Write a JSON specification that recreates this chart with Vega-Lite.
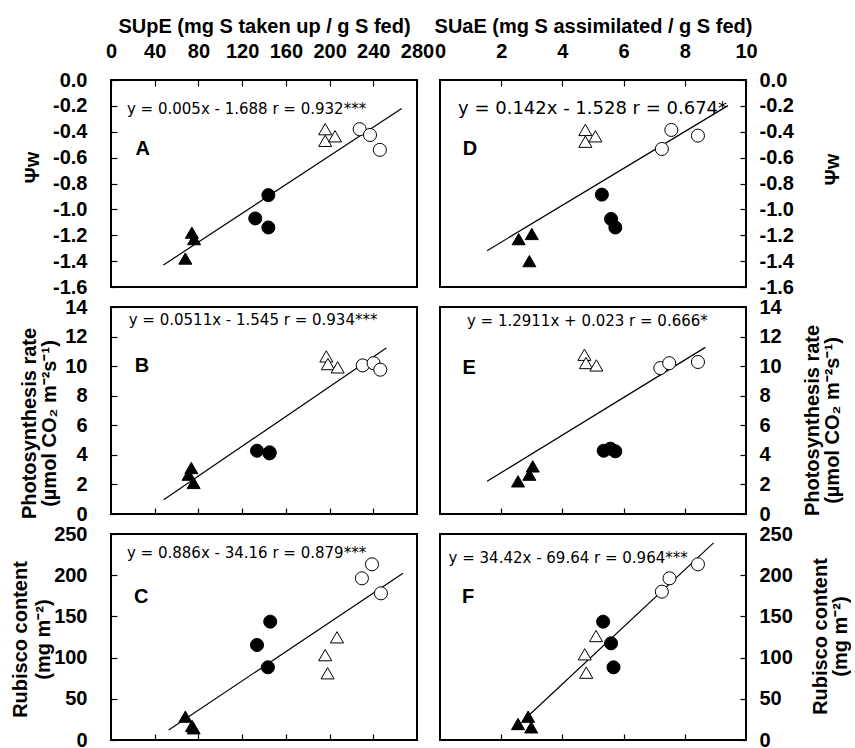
{
  "$schema": "https://vega.github.io/schema/vega-lite/v6.json",
  "padding": {"left": 9, "top": 15, "right": 0, "bottom": 0},
  "config": {
    "view": {"stroke": "black", "strokeWidth": 2},
    "axis": {
      "grid": false, "domain": false, "tickColor": "black", "tickSize": -6, "tickWidth": 1.2,
      "labelFont": "Liberation Sans", "labelFontWeight": "bold", "labelFontSize": 20, "labelColor": "black",
      "titleFont": "Liberation Sans", "titleFontWeight": "bold", "titleFontSize": 20, "titleColor": "black",
      "titleLineHeight": 20, "labelFlush": false, "labelOverlap": false, "labelBound": false
    }
  },
  "datasets": {
    "points": [
      {"panel": "A", "group": "closed_triangle", "x": 68, "y": -1.38},
      {"panel": "A", "group": "closed_triangle", "x": 74, "y": -1.18},
      {"panel": "A", "group": "closed_triangle", "x": 76, "y": -1.23},
      {"panel": "A", "group": "closed_circle", "x": 144, "y": -0.89},
      {"panel": "A", "group": "closed_circle", "x": 132, "y": -1.07},
      {"panel": "A", "group": "closed_circle", "x": 144, "y": -1.14},
      {"panel": "A", "group": "open_triangle", "x": 196, "y": -0.38},
      {"panel": "A", "group": "open_triangle", "x": 196, "y": -0.47},
      {"panel": "A", "group": "open_triangle", "x": 205, "y": -0.435},
      {"panel": "A", "group": "open_circle", "x": 227.5, "y": -0.38},
      {"panel": "A", "group": "open_circle", "x": 237, "y": -0.425},
      {"panel": "A", "group": "open_circle", "x": 246, "y": -0.54},
      {"panel": "D", "group": "closed_triangle", "x": 2.57, "y": -1.23},
      {"panel": "D", "group": "closed_triangle", "x": 3.0, "y": -1.19},
      {"panel": "D", "group": "closed_triangle", "x": 2.92, "y": -1.4},
      {"panel": "D", "group": "closed_circle", "x": 5.29, "y": -0.886},
      {"panel": "D", "group": "closed_circle", "x": 5.59, "y": -1.074},
      {"panel": "D", "group": "closed_circle", "x": 5.73, "y": -1.14},
      {"panel": "D", "group": "open_triangle", "x": 4.75, "y": -0.386},
      {"panel": "D", "group": "open_triangle", "x": 4.75, "y": -0.477},
      {"panel": "D", "group": "open_triangle", "x": 5.08, "y": -0.435},
      {"panel": "D", "group": "open_circle", "x": 7.25, "y": -0.533},
      {"panel": "D", "group": "open_circle", "x": 7.56, "y": -0.386},
      {"panel": "D", "group": "open_circle", "x": 8.43, "y": -0.43},
      {"panel": "B", "group": "closed_triangle", "x": 73.5, "y": 3.11},
      {"panel": "B", "group": "closed_triangle", "x": 71, "y": 2.66},
      {"panel": "B", "group": "closed_triangle", "x": 75.6, "y": 2.1},
      {"panel": "B", "group": "closed_circle", "x": 133.6, "y": 4.28},
      {"panel": "B", "group": "closed_circle", "x": 145.2, "y": 4.17},
      {"panel": "B", "group": "closed_circle", "x": 145, "y": 4.1},
      {"panel": "B", "group": "open_triangle", "x": 197, "y": 10.66},
      {"panel": "B", "group": "open_triangle", "x": 198.5, "y": 10.14},
      {"panel": "B", "group": "open_triangle", "x": 207.4, "y": 9.92},
      {"panel": "B", "group": "open_circle", "x": 230.3, "y": 10.05},
      {"panel": "B", "group": "open_circle", "x": 240.3, "y": 10.2},
      {"panel": "B", "group": "open_circle", "x": 246.4, "y": 9.76},
      {"panel": "E", "group": "closed_triangle", "x": 2.55, "y": 2.21},
      {"panel": "E", "group": "closed_triangle", "x": 2.92, "y": 2.66},
      {"panel": "E", "group": "closed_triangle", "x": 3.03, "y": 3.22},
      {"panel": "E", "group": "closed_circle", "x": 5.35, "y": 4.28},
      {"panel": "E", "group": "closed_circle", "x": 5.57, "y": 4.42},
      {"panel": "E", "group": "closed_circle", "x": 5.73, "y": 4.24},
      {"panel": "E", "group": "open_triangle", "x": 4.72, "y": 10.77},
      {"panel": "E", "group": "open_triangle", "x": 4.77, "y": 10.21},
      {"panel": "E", "group": "open_triangle", "x": 5.11, "y": 10.05},
      {"panel": "E", "group": "open_circle", "x": 7.2, "y": 9.87},
      {"panel": "E", "group": "open_circle", "x": 7.49, "y": 10.2},
      {"panel": "E", "group": "open_circle", "x": 8.43, "y": 10.28},
      {"panel": "C", "group": "closed_triangle", "x": 68, "y": 28.3},
      {"panel": "C", "group": "closed_triangle", "x": 74.1, "y": 17},
      {"panel": "C", "group": "closed_triangle", "x": 75.6, "y": 14.2},
      {"panel": "C", "group": "closed_circle", "x": 133.6, "y": 115.3},
      {"panel": "C", "group": "closed_circle", "x": 145.7, "y": 143.6},
      {"panel": "C", "group": "closed_circle", "x": 143.6, "y": 88.2},
      {"panel": "C", "group": "open_triangle", "x": 196, "y": 103},
      {"panel": "C", "group": "open_triangle", "x": 198.2, "y": 81},
      {"panel": "C", "group": "open_triangle", "x": 206.8, "y": 124.6},
      {"panel": "C", "group": "open_circle", "x": 229.6, "y": 196.2},
      {"panel": "C", "group": "open_circle", "x": 238.8, "y": 213.2},
      {"panel": "C", "group": "open_circle", "x": 247, "y": 178},
      {"panel": "F", "group": "closed_triangle", "x": 2.55, "y": 19.4},
      {"panel": "F", "group": "closed_triangle", "x": 2.88, "y": 28.3},
      {"panel": "F", "group": "closed_triangle", "x": 2.98, "y": 15.4},
      {"panel": "F", "group": "closed_circle", "x": 5.33, "y": 143.6},
      {"panel": "F", "group": "closed_circle", "x": 5.59, "y": 117.3},
      {"panel": "F", "group": "closed_circle", "x": 5.67, "y": 88.2},
      {"panel": "F", "group": "open_triangle", "x": 5.1, "y": 126.2},
      {"panel": "F", "group": "open_triangle", "x": 4.73, "y": 104},
      {"panel": "F", "group": "open_triangle", "x": 4.78, "y": 81.7},
      {"panel": "F", "group": "open_circle", "x": 7.25, "y": 180},
      {"panel": "F", "group": "open_circle", "x": 7.5, "y": 196.2},
      {"panel": "F", "group": "open_circle", "x": 8.43, "y": 213.2}
    ],
    "fits": [
      {"panel": "A", "x": 48, "y": -1.43}, {"panel": "A", "x": 266, "y": -0.22},
      {"panel": "D", "x": 1.54, "y": -1.319}, {"panel": "D", "x": 9.41, "y": -0.198},
      {"panel": "B", "x": 48.2, "y": 0.97}, {"panel": "B", "x": 251.9, "y": 11.22},
      {"panel": "E", "x": 1.54, "y": 2.21}, {"panel": "E", "x": 8.67, "y": 11.27},
      {"panel": "C", "x": 52.8, "y": 12.1}, {"panel": "C", "x": 267.2, "y": 202.3},
      {"panel": "F", "x": 2.88, "y": 29.1}, {"panel": "F", "x": 8.94, "y": 239.2}
    ],
    "notes": [
      {"panel": "A", "kind": "eq", "x": 14.6, "y": -0.224, "text": "y = 0.005x - 1.688 r = 0.932***"},
      {"panel": "A", "kind": "letter", "x": 29, "y": -0.53, "text": "A"},
      {"panel": "D", "kind": "eq", "x": 0.59, "y": -0.224, "text": "y = 0.142x - 1.528 r = 0.674*"},
      {"panel": "D", "kind": "letter", "x": 0.98, "y": -0.53, "text": "D"},
      {"panel": "B", "kind": "eq", "x": 16.2, "y": 13.14, "text": "y = 0.0511x - 1.545  r = 0.934***"},
      {"panel": "B", "kind": "letter", "x": 28.4, "y": 10.0, "text": "B"},
      {"panel": "E", "kind": "eq", "x": 0.88, "y": 13.03, "text": "y = 1.2911x + 0.023 r = 0.666*"},
      {"panel": "E", "kind": "letter", "x": 0.95, "y": 9.87, "text": "E"},
      {"panel": "C", "kind": "eq", "x": 14.6, "y": 226.6, "text": "y = 0.886x - 34.16 r = 0.879***"},
      {"panel": "C", "kind": "letter", "x": 27.7, "y": 173, "text": "C"},
      {"panel": "F", "kind": "eq", "x": 0.28, "y": 220.5, "text": "y = 34.42x - 69.64 r = 0.964***"},
      {"panel": "F", "kind": "letter", "x": 0.92, "y": 173, "text": "F"}
    ]
  },
  "columns": 2,
  "spacing": {"row": 20, "column": 23},
  "bounds": "flush",
  "concat": [
    {
      "width": 306, "height": 207,
      "encoding": {
        "x": {"field": "x", "type": "quantitative", "scale": {"domain": [0, 280], "nice": false},
              "axis": {"orient": "top", "title": "SUpE (mg S taken up / g S fed)", "values": [0, 40, 80, 120, 160, 200, 240, 280], "labelOverlap": false, "labelPadding": 25, "titleY": -54, "titleBaseline": "middle"}},
        "y": {"field": "y", "type": "quantitative", "scale": {"domain": [-1.6, 0], "nice": false},
              "axis": {"orient": "left", "values": [0, -0.2, -0.4, -0.6, -0.8, -1, -1.2, -1.4, -1.6], "labelOverlap": false, "labelExpr": "replace(format(datum.value, '.1f'), '\u2212', '-')", "labelPadding": 30, "title": "Ψw", "titleAngle": 270, "titleBaseline": "top", "titleAlign": "center", "titleX": -89, "titleY": 87}}
      },
      "layer": [
        {"data": {"name": "fits"}, "transform": [{"filter": "datum.panel === 'A'"}],
         "mark": {"type": "line", "color": "black", "strokeWidth": 1.2}},
        {"data": {"name": "points"}, "transform": [{"filter": "datum.panel === 'A'"}],
         "mark": {"type": "point", "filled": true, "size": 170, "stroke": "black", "strokeWidth": 1, "opacity": 1},
         "encoding": {
           "shape": {"field": "group", "scale": {"domain": ["closed_triangle", "closed_circle", "open_triangle", "open_circle"], "range": ["triangle-up", "circle", "triangle-up", "circle"]}, "legend": null},
           "fill": {"field": "group", "scale": {"domain": ["closed_triangle", "closed_circle", "open_triangle", "open_circle"], "range": ["black", "black", "white", "white"]}, "legend": null}
         }},
        {"data": {"name": "notes"}, "transform": [{"filter": "datum.panel === 'A' && datum.kind === 'eq'"}],
         "mark": {"type": "text", "font": "DejaVu Sans", "fontSize": 15, "align": "left", "baseline": "middle", "color": "black"},
         "encoding": {"text": {"field": "text"}}},
        {"data": {"name": "notes"}, "transform": [{"filter": "datum.panel === 'A' && datum.kind === 'letter'"}],
         "mark": {"type": "text", "font": "Liberation Sans", "fontWeight": "bold", "fontSize": 20, "align": "center", "baseline": "middle", "color": "black"},
         "encoding": {"text": {"field": "text"}}}
      ]
    },
    {
      "width": 306, "height": 207,
      "encoding": {
        "x": {"field": "x", "type": "quantitative", "scale": {"domain": [0, 10], "nice": false},
              "axis": {"orient": "top", "title": "SUaE (mg S assimilated / g S fed)", "values": [0, 2, 4, 6, 8, 10], "labelOverlap": false, "labelPadding": 25, "titleY": -54, "titleBaseline": "middle"}},
        "y": {"field": "y", "type": "quantitative", "scale": {"domain": [-1.6, 0], "nice": false},
              "axis": {"orient": "right", "values": [0, -0.2, -0.4, -0.6, -0.8, -1, -1.2, -1.4, -1.6], "labelOverlap": false, "labelExpr": "replace(format(datum.value, '.1f'), '\u2212', '-')", "labelPadding": 19, "title": "Ψw", "titleAngle": 270, "titleBaseline": "top", "titleAlign": "center", "titleX": 76, "titleY": 89}}
      },
      "layer": [
        {"data": {"name": "fits"}, "transform": [{"filter": "datum.panel === 'D'"}],
         "mark": {"type": "line", "color": "black", "strokeWidth": 1.2}},
        {"data": {"name": "points"}, "transform": [{"filter": "datum.panel === 'D'"}],
         "mark": {"type": "point", "filled": true, "size": 170, "stroke": "black", "strokeWidth": 1, "opacity": 1},
         "encoding": {
           "shape": {"field": "group", "scale": {"domain": ["closed_triangle", "closed_circle", "open_triangle", "open_circle"], "range": ["triangle-up", "circle", "triangle-up", "circle"]}, "legend": null},
           "fill": {"field": "group", "scale": {"domain": ["closed_triangle", "closed_circle", "open_triangle", "open_circle"], "range": ["black", "black", "white", "white"]}, "legend": null}
         }},
        {"data": {"name": "notes"}, "transform": [{"filter": "datum.panel === 'D' && datum.kind === 'eq'"}],
         "mark": {"type": "text", "font": "DejaVu Sans", "fontSize": 18, "align": "left", "baseline": "middle", "color": "black"},
         "encoding": {"text": {"field": "text"}}},
        {"data": {"name": "notes"}, "transform": [{"filter": "datum.panel === 'D' && datum.kind === 'letter'"}],
         "mark": {"type": "text", "font": "Liberation Sans", "fontWeight": "bold", "fontSize": 20, "align": "center", "baseline": "middle", "color": "black"},
         "encoding": {"text": {"field": "text"}}}
      ]
    },
    {
      "width": 306, "height": 207,
      "encoding": {
        "x": {"field": "x", "type": "quantitative", "scale": {"domain": [0, 280], "nice": false},
              "axis": {"orient": "bottom", "labels": false, "title": null, "values": [40, 80, 120, 160, 200, 240]}},
        "y": {"field": "y", "type": "quantitative", "scale": {"domain": [0, 14], "nice": false},
              "axis": {"orient": "left", "values": [0, 2, 4, 6, 8, 10, 12, 14], "labelOverlap": false, "labelPadding": 30, "title": ["Photosynthesis  rate", "(µmol CO₂ m⁻²s⁻¹)"], "titleAngle": 270, "titleBaseline": "top", "titleAlign": "center", "titleX": -92, "titleY": 116}}
      },
      "layer": [
        {"data": {"name": "fits"}, "transform": [{"filter": "datum.panel === 'B'"}],
         "mark": {"type": "line", "color": "black", "strokeWidth": 1.2}},
        {"data": {"name": "points"}, "transform": [{"filter": "datum.panel === 'B'"}],
         "mark": {"type": "point", "filled": true, "size": 170, "stroke": "black", "strokeWidth": 1, "opacity": 1},
         "encoding": {
           "shape": {"field": "group", "scale": {"domain": ["closed_triangle", "closed_circle", "open_triangle", "open_circle"], "range": ["triangle-up", "circle", "triangle-up", "circle"]}, "legend": null},
           "fill": {"field": "group", "scale": {"domain": ["closed_triangle", "closed_circle", "open_triangle", "open_circle"], "range": ["black", "black", "white", "white"]}, "legend": null}
         }},
        {"data": {"name": "notes"}, "transform": [{"filter": "datum.panel === 'B' && datum.kind === 'eq'"}],
         "mark": {"type": "text", "font": "DejaVu Sans", "fontSize": 15, "align": "left", "baseline": "middle", "color": "black"},
         "encoding": {"text": {"field": "text"}}},
        {"data": {"name": "notes"}, "transform": [{"filter": "datum.panel === 'B' && datum.kind === 'letter'"}],
         "mark": {"type": "text", "font": "Liberation Sans", "fontWeight": "bold", "fontSize": 20, "align": "center", "baseline": "middle", "color": "black"},
         "encoding": {"text": {"field": "text"}}}
      ]
    },
    {
      "width": 306, "height": 207,
      "encoding": {
        "x": {"field": "x", "type": "quantitative", "scale": {"domain": [0, 10], "nice": false},
              "axis": {"orient": "bottom", "labels": false, "title": null, "values": [2, 4, 6, 8]}},
        "y": {"field": "y", "type": "quantitative", "scale": {"domain": [0, 14], "nice": false},
              "axis": {"orient": "right", "values": [0, 2, 4, 6, 8, 10, 12, 14], "labelOverlap": false, "labelPadding": 19, "title": ["Photosynthesis  rate", "(µmol CO₂ m⁻²s⁻¹)"], "titleAngle": 270, "titleBaseline": "top", "titleAlign": "center", "titleX": 56, "titleY": 113}}
      },
      "layer": [
        {"data": {"name": "fits"}, "transform": [{"filter": "datum.panel === 'E'"}],
         "mark": {"type": "line", "color": "black", "strokeWidth": 1.2}},
        {"data": {"name": "points"}, "transform": [{"filter": "datum.panel === 'E'"}],
         "mark": {"type": "point", "filled": true, "size": 170, "stroke": "black", "strokeWidth": 1, "opacity": 1},
         "encoding": {
           "shape": {"field": "group", "scale": {"domain": ["closed_triangle", "closed_circle", "open_triangle", "open_circle"], "range": ["triangle-up", "circle", "triangle-up", "circle"]}, "legend": null},
           "fill": {"field": "group", "scale": {"domain": ["closed_triangle", "closed_circle", "open_triangle", "open_circle"], "range": ["black", "black", "white", "white"]}, "legend": null}
         }},
        {"data": {"name": "notes"}, "transform": [{"filter": "datum.panel === 'E' && datum.kind === 'eq'"}],
         "mark": {"type": "text", "font": "DejaVu Sans", "fontSize": 15, "align": "left", "baseline": "middle", "color": "black"},
         "encoding": {"text": {"field": "text"}}},
        {"data": {"name": "notes"}, "transform": [{"filter": "datum.panel === 'E' && datum.kind === 'letter'"}],
         "mark": {"type": "text", "font": "Liberation Sans", "fontWeight": "bold", "fontSize": 20, "align": "center", "baseline": "middle", "color": "black"},
         "encoding": {"text": {"field": "text"}}}
      ]
    },
    {
      "width": 306, "height": 206,
      "encoding": {
        "x": {"field": "x", "type": "quantitative", "scale": {"domain": [0, 280], "nice": false},
              "axis": {"orient": "bottom", "labels": false, "title": null, "values": [40, 80, 120, 160, 200, 240]}},
        "y": {"field": "y", "type": "quantitative", "scale": {"domain": [0, 250], "nice": false},
              "axis": {"orient": "left", "values": [0, 50, 100, 150, 200, 250], "labelOverlap": false, "labelPadding": 30, "title": ["Rubisco  content", "(mg m⁻²)"], "titleLineHeight": 23, "titleAngle": 270, "titleBaseline": "top", "titleAlign": "center", "titleX": -101, "titleY": 105}}
      },
      "layer": [
        {"data": {"name": "fits"}, "transform": [{"filter": "datum.panel === 'C'"}],
         "mark": {"type": "line", "color": "black", "strokeWidth": 1.2}},
        {"data": {"name": "points"}, "transform": [{"filter": "datum.panel === 'C'"}],
         "mark": {"type": "point", "filled": true, "size": 170, "stroke": "black", "strokeWidth": 1, "opacity": 1},
         "encoding": {
           "shape": {"field": "group", "scale": {"domain": ["closed_triangle", "closed_circle", "open_triangle", "open_circle"], "range": ["triangle-up", "circle", "triangle-up", "circle"]}, "legend": null},
           "fill": {"field": "group", "scale": {"domain": ["closed_triangle", "closed_circle", "open_triangle", "open_circle"], "range": ["black", "black", "white", "white"]}, "legend": null}
         }},
        {"data": {"name": "notes"}, "transform": [{"filter": "datum.panel === 'C' && datum.kind === 'eq'"}],
         "mark": {"type": "text", "font": "DejaVu Sans", "fontSize": 15, "align": "left", "baseline": "middle", "color": "black"},
         "encoding": {"text": {"field": "text"}}},
        {"data": {"name": "notes"}, "transform": [{"filter": "datum.panel === 'C' && datum.kind === 'letter'"}],
         "mark": {"type": "text", "font": "Liberation Sans", "fontWeight": "bold", "fontSize": 20, "align": "center", "baseline": "middle", "color": "black"},
         "encoding": {"text": {"field": "text"}}}
      ]
    },
    {
      "width": 306, "height": 206,
      "encoding": {
        "x": {"field": "x", "type": "quantitative", "scale": {"domain": [0, 10], "nice": false},
              "axis": {"orient": "bottom", "labels": false, "title": null, "values": [2, 4, 6, 8]}},
        "y": {"field": "y", "type": "quantitative", "scale": {"domain": [0, 250], "nice": false},
              "axis": {"orient": "right", "values": [0, 50, 100, 150, 200, 250], "labelOverlap": false, "labelPadding": 19, "title": ["Rubisco  content", "(mg m⁻²)"], "titleAngle": 270, "titleBaseline": "top", "titleAlign": "center", "titleX": 64, "titleY": 102}}
      },
      "layer": [
        {"data": {"name": "fits"}, "transform": [{"filter": "datum.panel === 'F'"}],
         "mark": {"type": "line", "color": "black", "strokeWidth": 1.2}},
        {"data": {"name": "points"}, "transform": [{"filter": "datum.panel === 'F'"}],
         "mark": {"type": "point", "filled": true, "size": 170, "stroke": "black", "strokeWidth": 1, "opacity": 1},
         "encoding": {
           "shape": {"field": "group", "scale": {"domain": ["closed_triangle", "closed_circle", "open_triangle", "open_circle"], "range": ["triangle-up", "circle", "triangle-up", "circle"]}, "legend": null},
           "fill": {"field": "group", "scale": {"domain": ["closed_triangle", "closed_circle", "open_triangle", "open_circle"], "range": ["black", "black", "white", "white"]}, "legend": null}
         }},
        {"data": {"name": "notes"}, "transform": [{"filter": "datum.panel === 'F' && datum.kind === 'eq'"}],
         "mark": {"type": "text", "font": "DejaVu Sans", "fontSize": 15, "align": "left", "baseline": "middle", "color": "black"},
         "encoding": {"text": {"field": "text"}}},
        {"data": {"name": "notes"}, "transform": [{"filter": "datum.panel === 'F' && datum.kind === 'letter'"}],
         "mark": {"type": "text", "font": "Liberation Sans", "fontWeight": "bold", "fontSize": 20, "align": "center", "baseline": "middle", "color": "black"},
         "encoding": {"text": {"field": "text"}}}
      ]
    }
  ]
}
